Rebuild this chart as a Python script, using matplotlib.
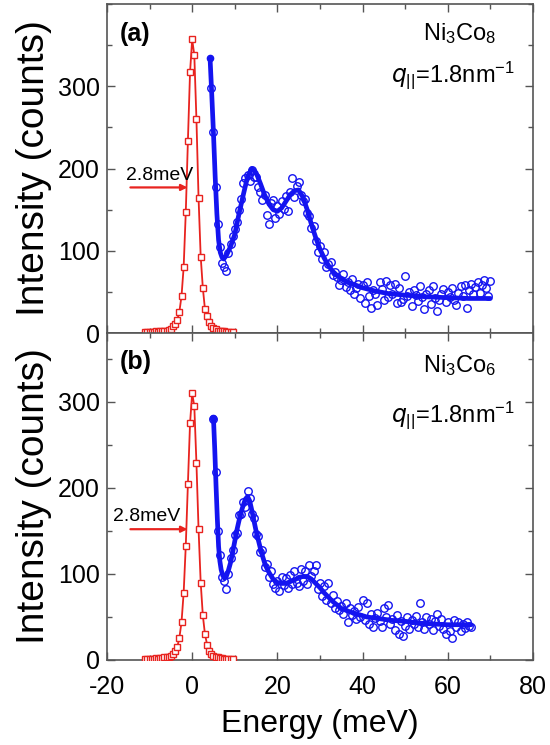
import matplotlib
matplotlib.use("Agg")
import matplotlib.pyplot as plt
from matplotlib.ticker import MultipleLocator
import numpy as np

plt.rcParams['font.family'] = ['Liberation Sans', 'DejaVu Sans']
plt.rcParams['mathtext.default'] = 'regular'
plt.rcParams['axes.unicode_minus'] = False

# ---- elastic peak (red squares), panel a / b
el_E = np.arange(-11.0, 9.51, 0.5)
el_a = [1, 1, 1, 1, 1, 2, 1, 2, 2, 3, 3, 4, 5, 8, 11, 16, 26, 45, 80, 147,
        234, 317, 357, 338, 260, 164, 93, 55, 29, 21, 13, 9, 6, 5, 3, 3,
        2, 2, 1, 1, 1, 1]
el_b = [1, 1, 1, 1, 1, 2, 1, 2, 2, 3, 3, 4, 5, 7, 10, 15, 26, 44, 78, 133,
        205, 275, 310, 295, 229, 152, 90, 52, 30, 18, 11, 7, 5, 4, 3, 2,
        2, 1, 1, 1, 1, 1]

# ---- fitted curves (blue lines)
fit_a_E = [4.2, 4.6, 5.0, 5.4, 5.8, 6.2, 6.6, 7.0, 7.4, 8, 9, 10, 11, 12, 13, 14,
           15, 16, 17, 18, 19, 20, 21, 22, 23, 24, 25, 26, 27, 28, 29, 30, 31,
           32, 33, 34, 35, 36, 38, 40, 43, 46, 50, 55, 60, 65, 70]
fit_a = [334, 290, 243, 190, 145, 113, 98, 92, 90, 94, 105, 120, 145, 168, 190,
         200, 195, 182, 168, 157, 150, 148, 152, 160, 168, 173, 174, 165, 150,
         132, 116, 102, 91, 82, 75, 70, 66, 63, 59, 55, 51, 48, 46, 44, 43, 42, 42]

fit_b_E = [5.0, 5.3, 5.6, 5.9, 6.2, 6.5, 6.8, 7.2, 7.6, 8, 8.5, 9, 9.5, 10, 10.5,
           11, 11.5, 12, 12.5, 13, 13.5, 14, 14.5, 15, 15.5, 16, 16.5, 17, 17.5,
           18, 19, 20, 21, 22, 23, 24, 25, 26, 27, 28, 29, 30, 31, 32, 33, 34,
           35, 36, 37, 39, 41, 44, 47, 50, 53, 56, 60, 65.5]
fit_b = [281, 245, 203, 165, 132, 115, 105, 98, 95, 97, 104, 113, 125, 138, 151,
         162, 172, 180, 187, 190, 185, 174, 162, 150, 140, 130, 121, 113, 107,
         102, 94, 90, 89, 89, 91, 93, 96, 97, 97, 94, 89, 84, 78, 73, 68, 64,
         60, 58, 56, 53, 50, 48, 46, 45, 43, 42, 41, 41]

# ---- measured spectra (blue open circles)
dat_a_E = np.arange(4.5, 70.01, 0.5)
dat_a = [298, 245, 178, 132, 104, 85, 80, 76, 97, 108, 118, 126, 135, 150, 163,
         183, 189, 192, 185, 198, 190, 190, 178, 172, 162, 168, 144, 132, 158,
         162, 140, 155, 145, 160, 151, 166, 148, 172, 188, 165, 179, 184, 168,
         160, 163, 146, 142, 128, 130, 112, 98, 106, 90, 99, 80, 84, 86, 70, 74,
         68, 58, 64, 72, 56, 62, 52, 66, 48, 55, 60, 42, 58, 36, 62, 45, 30, 52,
         47, 34, 62, 54, 40, 63, 44, 58, 48, 60, 37, 55, 38, 41, 69, 45, 50, 33,
         52, 46, 39, 57, 44, 29, 48, 52, 35, 57, 42, 27, 40, 47, 53, 38, 50, 44,
         55, 40, 34, 49, 57, 45, 58, 30, 52, 60, 47, 56, 62, 49, 58, 64, 55, 45, 63]

dat_b_E = np.arange(5.0, 65.51, 0.5)
dat_b = [280, 218, 150, 122, 96, 92, 82, 100, 118, 128, 145, 148, 168, 170, 184,
         178, 196, 188, 170, 165, 146, 144, 125, 128, 108, 112, 96, 104, 88, 84,
         92, 80, 96, 87, 95, 84, 99, 88, 104, 90, 86, 106, 92, 103, 88, 110, 98,
         104, 110, 82, 90, 74, 86, 70, 89, 66, 75, 60, 68, 58, 63, 54, 66, 44,
         60, 52, 57, 48, 62, 50, 70, 46, 66, 42, 54, 38, 49, 55, 45, 38, 60, 50,
         64, 42, 48, 35, 52, 30, 45, 28, 40, 50, 36, 47, 42, 51, 38, 66, 44, 36,
         50, 42, 48, 35, 45, 53, 40, 48, 36, 30, 44, 34, 25, 46, 38, 44, 34, 42,
         37, 44, 40, 38]

panels = [
    dict(tag='(a)', el=el_a, fitE=fit_a_E, fit=fit_a, dE=dat_a_E, d=dat_a,
         ylim=400, name=r'Ni$_3$Co$_8$', arr_y=177, txt_x=-15.5, txt_y=191,
         name_y=0.91, q_y=0.785),
    dict(tag='(b)', el=el_b, fitE=fit_b_E, fit=fit_b, dE=dat_b_E, d=dat_b,
         ylim=380, name=r'Ni$_3$Co$_6$', arr_y=152, txt_x=-18.5, txt_y=167,
         name_y=0.90, q_y=0.75),
]

fig = plt.figure(figsize=(5.5, 7.45), dpi=100)
rects = [[0.1945, 0.553, 0.7745, 0.4416], [0.1945, 0.1141, 0.7745, 0.4389]]

red = '#e8231f'
blue = '#1414f0'

for i, (p, r) in enumerate(zip(panels, rects)):
    ax = fig.add_axes(r)
    ax.plot(el_E, p['el'], '-s', color=red, lw=1.3, ms=4.2, mfc='white',
            mec=red, mew=1.0, zorder=3)
    ax.plot(p['dE'], p['d'], 'o', ls='none', ms=5.4, mfc='none', mec=blue,
            mew=1.0, zorder=2)
    ax.plot(p['fitE'], p['fit'], '-', color=blue, lw=3.4, zorder=4,
            solid_capstyle='round')
    ax.plot(p['fitE'][0], p['fit'][0], 'o', color=blue, ms=4.5, zorder=5)

    ax.annotate('', xy=(-1.1, p['arr_y']), xytext=(-14.5, p['arr_y']),
                arrowprops=dict(arrowstyle='-|>', color=red, lw=1.6,
                                mutation_scale=9, shrinkA=0, shrinkB=0))
    ax.text(p['txt_x'], p['txt_y'], '2.8meV', fontsize=14, ha='left',
            va='center')

    ax.text(0.03, 0.91, p['tag'], transform=ax.transAxes, fontsize=18,
            fontweight='bold', va='center', ha='left')
    ax.text(0.915, p['name_y'], p['name'], transform=ax.transAxes,
            fontsize=17, ha='right', va='center')
    ax.text(0.958, p['q_y'], r'$\mathit{q}_{||}$=1.8nm$^{-1}$',
            transform=ax.transAxes, fontsize=17, ha='right', va='center')

    ax.set_xlim(-20, 80)
    ax.set_ylim(0, p['ylim'])
    ax.set_yticks([0, 100, 200, 300])
    ax.xaxis.set_major_locator(MultipleLocator(20))
    ax.xaxis.set_minor_locator(MultipleLocator(10))
    ax.yaxis.set_minor_locator(MultipleLocator(50))
    ax.tick_params(which='both', direction='in', top=True, right=True,
                   color='#555555', labelsize=18)
    ax.tick_params(which='major', length=6, width=1.0)
    ax.tick_params(which='minor', length=3.5, width=1.0)
    ax.tick_params(axis='x', pad=11)
    ax.tick_params(axis='y', pad=5)
    for s in ax.spines.values():
        s.set_color('#555555')
        s.set_linewidth(1.2)

    ax.set_ylabel('Intensity (counts)', fontsize=28)
    ax.yaxis.set_label_coords(-0.13, 0.5)
    if i == 0:
        ax.tick_params(axis='x', labelbottom=False)
    else:
        ax.set_xlabel('Energy (meV)', fontsize=23)
        ax.xaxis.set_label_coords(0.5, -0.15)

fig.savefig('out.png', dpi=100)
